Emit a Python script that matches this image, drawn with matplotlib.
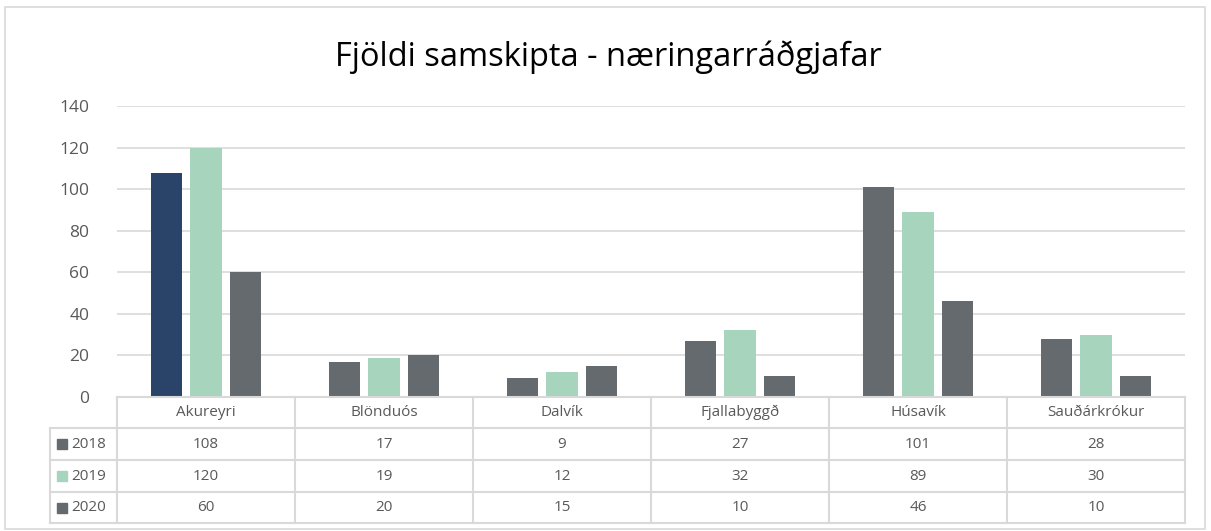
import matplotlib.pyplot as plt
import numpy as np
from matplotlib.patches import Rectangle
from matplotlib.lines import Line2D

# Gögn úr myndinni
categories = ["Akureyri", "Blönduós", "Dalvík", "Fjallabyggð", "Húsavík", "Sauðárkrókur"]
years = ["2018", "2019", "2020"]
v2018 = [108, 17, 9, 27, 101, 28]
v2019 = [120, 19, 12, 32, 89, 30]
v2020 = [60, 20, 15, 10, 46, 10]
yticks = [0, 20, 40, 60, 80, 100, 120, 140]

series = [v2018, v2019, v2020]
colors = ["#646a6e", "#a6d4bd", "#646a6e"]
highlight = "#294468"
text_col = "#595959"
line_col = "#d9d9d9"

plt.rcParams["font.family"] = ["Open Sans", "DejaVu Sans"]

W, H = 1211, 531
fig = plt.figure(figsize=(W / 100, H / 100), dpi=100)


def fx(x):
    return x / W


def fy(y):
    return 1 - y / H


# Plot area
x0, x1 = 117, 1185
y_top, y_zero = 106, 397
ax = fig.add_axes([fx(x0), fy(y_zero), fx(x1) - fx(x0), fy(y_top) - fy(y_zero)])

n = len(categories)
xs = np.arange(n)
width = 0.175
offsets = [-0.22, 0, 0.22]
for i, vals in enumerate(series):
    cols = [colors[i]] * n
    if i == 0:
        cols[0] = highlight
    ax.bar(xs + offsets[i], vals, width=width, color=cols, zorder=3)

ax.set_xlim(-0.5, n - 0.5)
ax.set_ylim(0, 140)
ax.set_yticks(yticks)
ax.set_xticks([])
ax.yaxis.grid(True, color=line_col, linewidth=1.2, zorder=0)
ax.tick_params(axis="y", length=0, labelsize=12.5, labelcolor=text_col, pad=20)
for s in ax.spines.values():
    s.set_visible(False)

# Titill
fig.text(fx(608), fy(57), "Fjöldi samskipta - næringarráðgjafar", ha="center", va="center",
         fontsize=23.5, color="#000000")

# Gagnatafla
row_lines = [397, 428, 460, 492, 523]
label_x0 = 50
cw = (x1 - x0) / n
lw = 1.5

def hline(y, xa, xb):
    fig.add_artist(Line2D([fx(xa), fx(xb)], [fy(y), fy(y)], color=line_col, lw=lw))

def vline(x, ya, yb):
    fig.add_artist(Line2D([fx(x), fx(x)], [fy(ya), fy(yb)], color=line_col, lw=lw))

hline(row_lines[0], x0, x1)
for y in row_lines[1:]:
    hline(y, label_x0, x1)
vline(label_x0, row_lines[1], row_lines[-1])
for k in range(n + 1):
    vline(x0 + k * cw, row_lines[0], row_lines[-1])

for k, cat in enumerate(categories):
    cx = x0 + (k + 0.5) * cw
    fig.text(fx(cx), fy((row_lines[0] + row_lines[1]) / 2), cat, ha="center", va="center",
             fontsize=11, color=text_col)
    for r, vals in enumerate(series):
        yc = (row_lines[r + 1] + row_lines[r + 2]) / 2
        fig.text(fx(cx), fy(yc), str(vals[k]), ha="center", va="center",
                 fontsize=11, color=text_col)

for r, yr in enumerate(years):
    yc = (row_lines[r + 1] + row_lines[r + 2]) / 2
    fig.add_artist(Rectangle((fx(57), fy(yc + 5)), fx(10), 10 / H, color=colors[r]))
    fig.text(fx(71), fy(yc), yr, ha="left", va="center", fontsize=11, color=text_col)

# Rammi utan um myndina
fig.add_artist(Rectangle((fx(5), fy(529)), fx(1205) - fx(5), fy(7) - fy(529),
                         fill=False, edgecolor=line_col, lw=1.2))

fig.savefig("out.png", dpi=100)
